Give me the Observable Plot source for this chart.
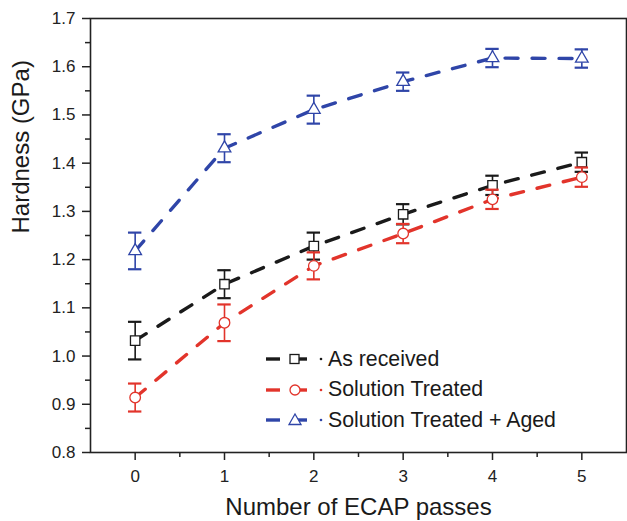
<!DOCTYPE html>
<html>
<head>
<meta charset="utf-8">
<script src="https://cdn.jsdelivr.net/npm/d3@7"></script>
<script src="https://cdn.jsdelivr.net/npm/@observablehq/plot@0.6"></script>
<style>
  html, body { margin: 0; padding: 0; background: #fff; }
  #wrap { position: relative; width: 627px; height: 521px; overflow: hidden; font-family: "Liberation Sans", Arial, Helvetica, sans-serif; }
  #legend { position: absolute; left: 264px; top: 344px; }
  .row { display: flex; align-items: center; height: 30.5px; }
  .row span { font-size: 21.3px; color: #1a1a1a; white-space: nowrap; }
</style>
</head>
<body>
<div id="wrap"></div>
<script>
// ---- data ----
const passes = [0, 1, 2, 3, 4, 5];
const seriesNames = ["As received", "Solution Treated", "Solution Treated + Aged"];
const asReceived    = [1.032, 1.149, 1.228, 1.294, 1.354, 1.402];
const asReceivedErr = [0.039, 0.029, 0.028, 0.021, 0.020, 0.020];
const solution      = [0.914, 1.069, 1.187, 1.254, 1.325, 1.371];
const solutionErr   = [0.029, 0.038, 0.028, 0.020, 0.020, 0.020];
const aged          = [1.218, 1.431, 1.511, 1.569, 1.618, 1.617];
const agedErr       = [0.038, 0.029, 0.029, 0.019, 0.019, 0.019];
const yTicks = [0.8, 0.9, 1.0, 1.1, 1.2, 1.3, 1.4, 1.5, 1.6, 1.7];
const yMinor = [0.85, 0.95, 1.05, 1.15, 1.25, 1.35, 1.45, 1.55, 1.65];
const xTicks = [0, 1, 2, 3, 4, 5];
const xMinor = [0.5, 1.5, 2.5, 3.5, 4.5];

const colors = ["#1a1a1a", "#e2342b", "#2f45a8"];
const symbols = ["square", "circle", "triangle"];
const radii = [5.3, 5.3, 4.7];
const valueSets = [asReceived, solution, aged];
const errSets = [asReceivedErr, solutionErr, agedErr];

const rows = [];
seriesNames.forEach((name, s) => {
  passes.forEach((p, i) => {
    rows.push({series: name, s, x: p, y: valueSets[s][i], e: errSets[s][i]});
  });
});

const capHalf = 0.075;
const marks = [
  Plot.axisY(yTicks, {tickSize: 8, tickPadding: 7, fontSize: 17, tickFormat: d => d.toFixed(1), strokeWidth: 1.5, label: null}),
  Plot.axisY(yMinor, {tickSize: 5, tickFormat: () => "", strokeWidth: 1.5, label: null}),
  Plot.axisX(xTicks, {tickSize: 8, tickPadding: 9, fontSize: 17, strokeWidth: 1.5, label: null}),
  Plot.axisX(xMinor, {tickSize: 5, tickFormat: () => "", strokeWidth: 1.5, label: null}),
  Plot.frame({stroke: "#222", strokeWidth: 1.6})
];
seriesNames.forEach((name, s) => {
  const data = rows.filter(d => d.s === s);
  const c = colors[s];
  marks.push(
    Plot.line(data, {x: "x", y: "y", stroke: c, strokeWidth: 3.4, strokeDasharray: "13,14"}),
    Plot.ruleX(data, {x: "x", y1: d => d.y - d.e, y2: d => d.y + d.e, stroke: c, strokeWidth: 1.6}),
    Plot.ruleY(data, {y: d => d.y + d.e, x1: d => d.x - capHalf, x2: d => d.x + capHalf, stroke: c, strokeWidth: 2.2}),
    Plot.ruleY(data, {y: d => d.y - d.e, x1: d => d.x - capHalf, x2: d => d.x + capHalf, stroke: c, strokeWidth: 2.2}),
    Plot.dot(data, {x: "x", y: "y", symbol: () => symbols[s], r: radii[s], fill: "white", stroke: c, strokeWidth: 1.3})
  );
});
marks.push(
  Plot.text(["Number of ECAP passes"], {frameAnchor: "bottom", dy: 62, fontSize: 24, fill: "#1a1a1a"}),
  Plot.text(["Hardness (GPa)"], {frameAnchor: "left", dx: -69, dy: -2, rotate: -90, fontSize: 24, fill: "#1a1a1a"})
);

const chart = Plot.plot({
  width: 627,
  height: 521,
  marginLeft: 90,
  marginRight: 1,
  marginTop: 18,
  marginBottom: 69,
  x: {domain: [-0.5, 5.5]},
  y: {domain: [0.8, 1.7]},
  style: {fontFamily: '"Liberation Sans", Arial, Helvetica, sans-serif', color: "#222", background: "#fff", overflow: "visible"},
  marks
});
const wrap = document.getElementById("wrap");
wrap.appendChild(chart);

// legend
const legend = document.createElement("div");
legend.id = "legend";
seriesNames.forEach((name, s) => {
  const c = colors[s];
  const row = document.createElement("div");
  row.className = "row";
  let sym;
  if (symbols[s] === "square") sym = `<rect x="26" y="10.5" width="9" height="9" fill="white" stroke="${c}" stroke-width="1.3"/>`;
  else if (symbols[s] === "circle") sym = `<circle cx="31" cy="15" r="5" fill="white" stroke="${c}" stroke-width="1.3"/>`;
  else sym = `<path d="M31,9 L37,19.5 L25,19.5 Z" fill="white" stroke="${c}" stroke-width="1.3"/>`;
  row.innerHTML = `<svg width="64" height="30" style="display:block">
    <line x1="2" x2="16" y1="15" y2="15" stroke="${c}" stroke-width="3.4"/>
    <line x1="34" x2="43" y1="15" y2="15" stroke="${c}" stroke-width="3.4"/>
    ${sym}
    <circle cx="57" cy="15" r="1.3" fill="${c}"/>
  </svg><span>${name}</span>`;
  legend.appendChild(row);
});
wrap.appendChild(legend);
</script>
</body>
</html>
